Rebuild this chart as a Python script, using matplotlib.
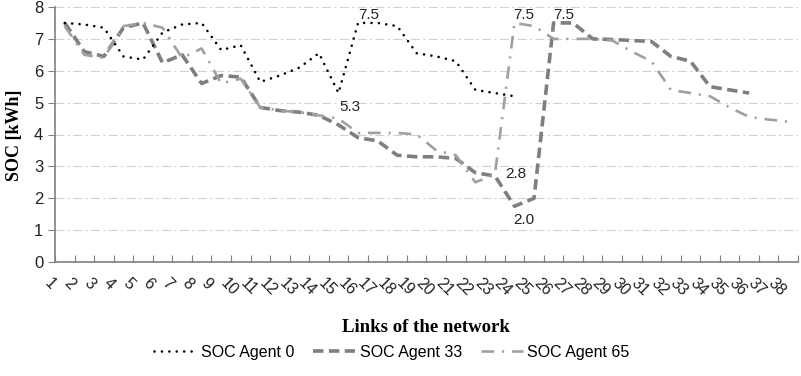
import matplotlib
matplotlib.use("Agg")
import matplotlib.pyplot as plt
import numpy as np

links = list(range(1, 39))

soc_agent_0 = [7.5, 7.45, 7.35, 6.45, 6.35, 7.2, 7.45, 7.5, 6.65, 6.8,
               5.65, 5.85, 6.1, 6.55, 5.3, 7.5, 7.5, 7.4, 6.55, 6.45,
               6.3, 5.4, 5.3, 5.2]
soc_agent_33 = [7.5, 6.6, 6.45, 7.35, 7.5, 6.25, 6.5, 5.6, 5.85, 5.8,
                4.85, 4.75, 4.7, 4.6, 4.3, 3.9, 3.8, 3.35, 3.3, 3.3,
                3.25, 2.8, 2.7, 1.75, 2.0, 7.5, 7.5, 7.0, 6.98, 6.95,
                6.92, 6.45, 6.3, 5.5, 5.4, 5.3]
soc_agent_65 = [7.4, 6.5, 6.4, 7.4, 7.5, 7.35, 6.4, 6.7, 5.6, 5.75,
                4.85, 4.75, 4.7, 4.6, 4.5, 4.05, 4.05, 4.05, 4.0, 3.5,
                3.35, 2.5, 2.75, 7.5, 7.4, 7.0, 7.0, 7.0, 6.95, 6.6,
                6.3, 5.4, 5.3, 5.2, 4.85, 4.55, 4.47, 4.4]

# value labels: (series, link, text, offset in points)
labels = [
    (soc_agent_0, 16, "7.5", (8, 6)),
    (soc_agent_0, 15, "5.3", (8, -10)),
    (soc_agent_65, 23, "2.8", (15, 0)),
    (soc_agent_33, 24, "2.0", (7, -10)),
    (soc_agent_65, 24, "7.5", (7, 6)),
    (soc_agent_33, 26, "7.5", (7, 6)),
]

sans = ["Liberation Sans Narrow", "Liberation Sans", "DejaVu Sans"]
serif = ["Liberation Serif", "DejaVu Serif"]

fig = plt.figure(figsize=(8.01, 3.76), dpi=100)
ax = fig.add_axes([55 / 801, 114 / 376, 743 / 801, 255 / 376])

ax.set_ylim(0, 8)
ax.set_xlim(0.5, 38.5)
ax.set_yticks(range(0, 9))
ax.yaxis.grid(True, color="#d0d0d0", linestyle=(0, (8, 3, 2, 3)), linewidth=0.8)
ax.set_axisbelow(True)

x0 = links[:len(soc_agent_0)]
x33 = links[:len(soc_agent_33)]
x65 = links[:len(soc_agent_65)]

ax.plot(x33, soc_agent_33, color="#7f7f7f", linewidth=2.6,
        linestyle=(0, (2.9, 1.5)), label="SOC Agent 33")
ax.plot(x65, soc_agent_65, color="#a0a0a0", linewidth=1.9,
        linestyle=(0, (4.8, 3.0, 0.8, 3.0)), label="SOC Agent 65")
ax.plot(x0, soc_agent_0, color="black", linewidth=1.9,
        linestyle=(0, (0.01, 2.8)), dash_capstyle="round", label="SOC Agent 0")

for series, link, text, off in labels:
    ax.annotate(text, (link, series[link - 1]), xytext=off, textcoords="offset points",
                ha="center", va="center", fontsize=11, family=sans, color="#222222")

# category axis: ticks between categories, labels at categories
ax.set_xticks(np.arange(0.5, 38.6, 1.0))
ax.set_xticklabels([])
ax.tick_params(axis="x", direction="in", length=5, color="#808080")
ax.tick_params(axis="y", direction="out", length=5, color="#808080",
               labelsize=12, labelcolor="#222222")
for lab in ax.get_yticklabels():
    lab.set_family(sans)

for i in links:
    ax.text(i - 0.9, -0.6, str(i), rotation=-45, rotation_mode="anchor",
            ha="left", va="center", fontsize=11.5, family=sans, color="#222222")

for side in ["top", "right"]:
    ax.spines[side].set_visible(False)
for side in ["left", "bottom"]:
    ax.spines[side].set_color("#808080")
    ax.spines[side].set_linewidth(1.2)

fig.text(15 / 801, 1 - 135 / 376, "SOC [kWh]", family=serif, fontweight="bold",
         fontsize=13, rotation=90, ha="center", va="center")
fig.text(426 / 801, 1 - 327 / 376, "Links of the network", family=serif,
         fontweight="bold", fontsize=13.5, ha="center", va="center")

handles, names = ax.get_legend_handles_labels()
order = [2, 0, 1]
fig.legend([handles[i] for i in order], [names[i] for i in order],
           loc="center", bbox_to_anchor=(392 / 801, 1 - 352 / 376), ncol=3,
           frameon=False, prop={"family": sans, "size": 11.5},
           handlelength=2.6, columnspacing=1.2, handletextpad=0.3)

fig.savefig("out.png", dpi=100)
